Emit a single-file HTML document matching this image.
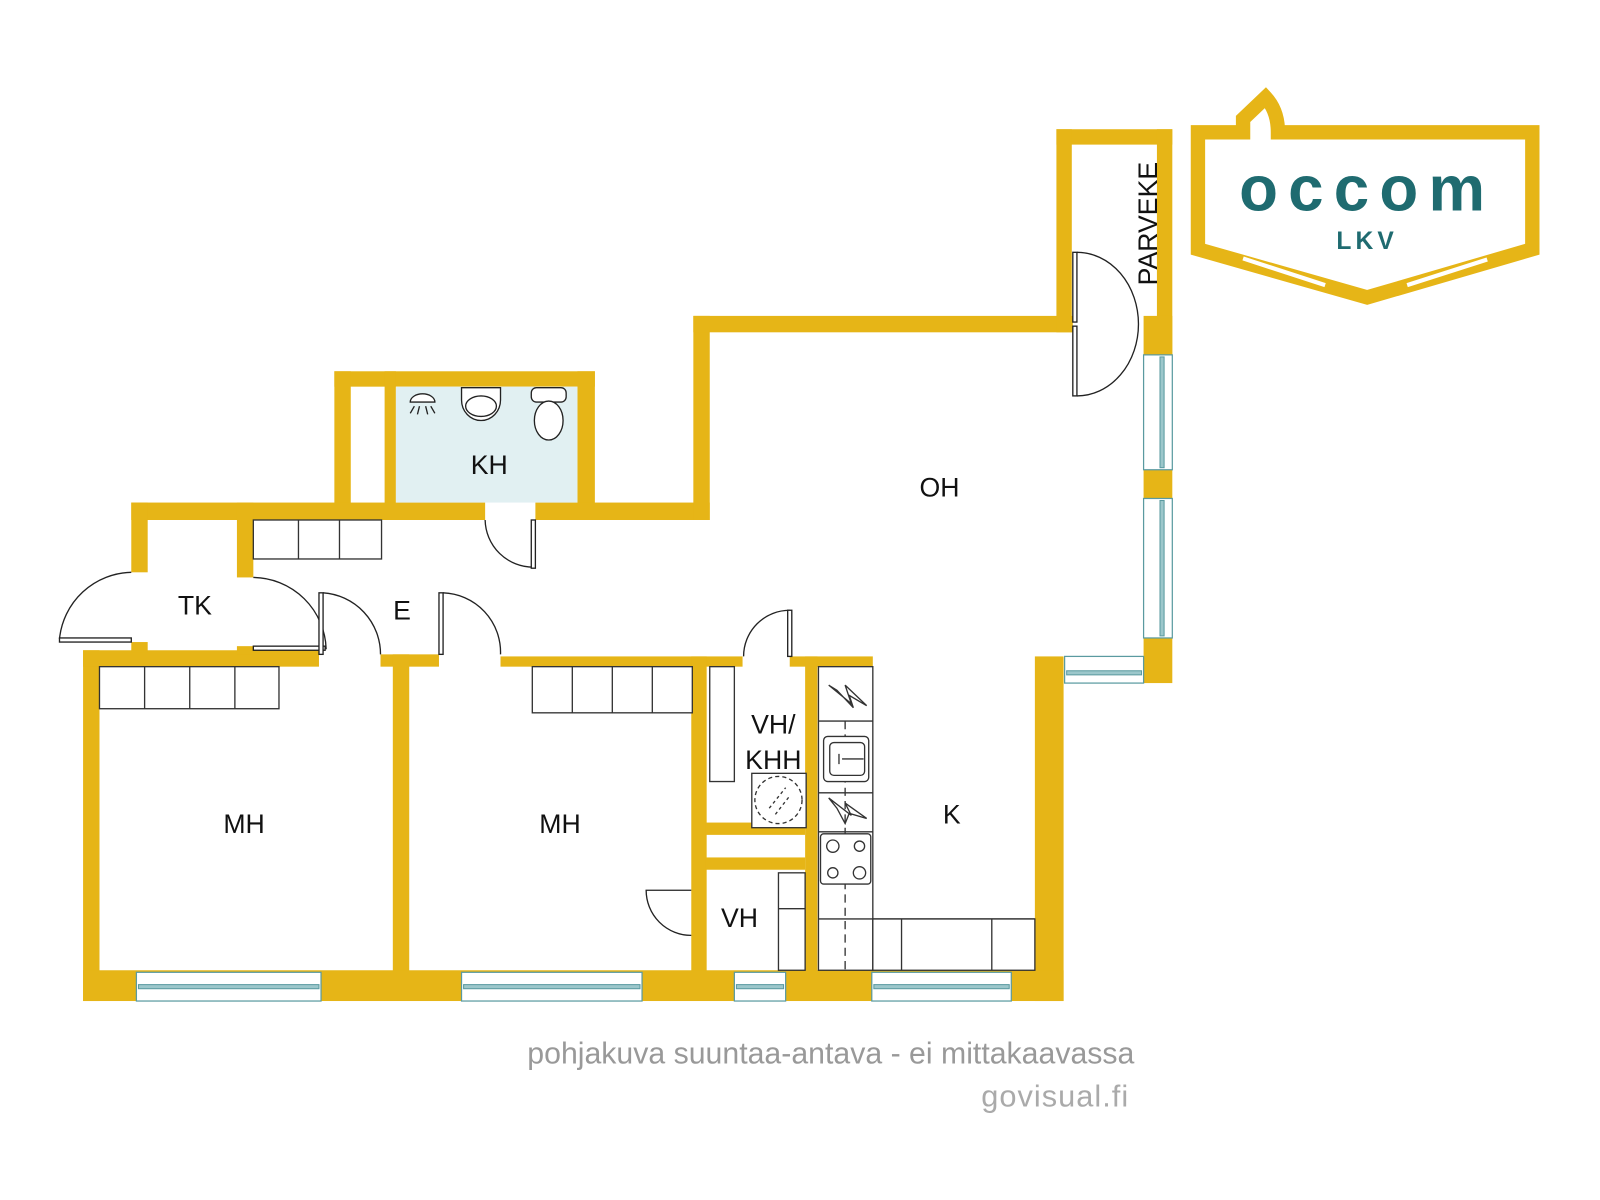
<!DOCTYPE html>
<html><head><meta charset="utf-8"><style>
html,body{margin:0;padding:0;background:#fff;}
svg{display:block;}
text{font-family:"Liberation Sans",sans-serif;}
</style></head><body>
<svg width="1600" height="1200" viewBox="0 0 1560 1170" xmlns="http://www.w3.org/2000/svg">
<rect width="1560" height="1170" fill="#fff"/>
<g transform="translate(-2,-2)">
<g fill="#E6B517">
<rect x="328" y="364" width="254" height="15"/>
<rect x="328" y="364" width="16" height="145"/>
<rect x="377" y="364" width="11" height="145"/>
<rect x="565" y="364" width="17" height="145"/>
<rect x="130" y="492" width="345" height="17"/>
<rect x="524" y="492" width="170" height="17"/>
<rect x="130" y="492" width="16" height="68"/>
<rect x="233" y="492" width="16" height="73"/>
<rect x="678" y="310" width="16" height="199"/>
<rect x="678" y="310" width="370" height="16"/>
<rect x="1032" y="128" width="113" height="15"/>
<rect x="1032" y="128" width="15" height="198"/>
<rect x="1130" y="128" width="15" height="220"/>
<rect x="1117" y="310" width="28" height="38"/>
<rect x="1117" y="460" width="28" height="28"/>
<rect x="1117" y="624" width="28" height="44"/>
<rect x="83" y="636" width="16" height="342"/>
<rect x="83" y="636" width="230" height="16"/>
<rect x="130" y="628" width="16" height="10"/>
<rect x="233" y="632" width="16" height="8"/>
<rect x="373" y="640" width="57" height="12"/>
<rect x="385" y="640" width="16" height="320"/>
<rect x="490" y="642" width="236" height="10"/>
<rect x="772" y="642" width="81" height="10"/>
<rect x="676" y="642" width="15" height="318"/>
<rect x="787" y="642" width="12" height="318"/>
<rect x="690" y="804" width="97" height="12"/>
<rect x="690" y="838" width="97" height="12"/>
<rect x="1011" y="642" width="28" height="336"/>
<rect x="83" y="948" width="956" height="30"/>
</g>
<rect x="388" y="379" width="177" height="113" fill="#E1F0F2"/>
<g fill="#fff" stroke="#5A9AA0" stroke-width="1.2">
<rect x="135" y="950" width="180" height="28"/>
<rect x="452" y="950" width="176" height="28"/>
<rect x="718" y="950" width="50" height="28"/>
<rect x="852" y="950" width="136" height="28"/>
<rect x="1117" y="348" width="28" height="112"/>
<rect x="1117" y="488" width="28" height="136"/>
<rect x="1040" y="642" width="77" height="26"/>
</g>
<g fill="#9CC7CB" stroke="#5A9AA0" stroke-width="1">
<rect x="137" y="962" width="176" height="4"/>
<rect x="454" y="962" width="172" height="4"/>
<rect x="720" y="962" width="46" height="4"/>
<rect x="854" y="962" width="132" height="4"/>
<rect x="1133" y="350" width="4" height="108"/>
<rect x="1133" y="490" width="4" height="132"/>
<rect x="1042" y="656" width="73" height="4"/>
</g>
<g fill="none" stroke="#222" stroke-width="1.3">
<path d="M130 560 A72 72 0 0 0 60 625"/>
<rect x="60" y="624" width="70" height="4" fill="#fff"/>
<path d="M249 565 A72 72 0 0 1 320 635"/>
<rect x="249" y="632" width="70" height="4" fill="#fff"/>
<path d="M317 580 A60 60 0 0 1 373 640"/>
<rect x="313" y="580" width="4" height="60" fill="#fff"/>
<path d="M434 580 A58 58 0 0 1 490 640"/>
<rect x="430" y="580" width="4" height="60" fill="#fff"/>
<path d="M475 509 A47 47 0 0 0 522 555"/>
<rect x="520" y="509" width="4" height="47" fill="#fff"/>
<path d="M772 597 A45 45 0 0 0 727 642"/>
<rect x="770" y="597" width="4" height="45" fill="#fff"/>
<path d="M676 870 L632 870 A44 44 0 0 0 676 914"/>
<path d="M1052 248 A60 70 0 0 1 1052 388"/>
<rect x="1048" y="248" width="4" height="68" fill="#fff"/>
<rect x="1048" y="320" width="4" height="68" fill="#fff"/>
</g>
<g fill="#fff" stroke="#333" stroke-width="1.3">
<rect x="249" y="509" width="125" height="38"/>
<line x1="293" y1="509" x2="293" y2="547"/><line x1="333" y1="509" x2="333" y2="547"/>
<rect x="99" y="652" width="175" height="41"/>
<line x1="143" y1="652" x2="143" y2="693"/><line x1="187" y1="652" x2="187" y2="693"/><line x1="231" y1="652" x2="231" y2="693"/>
<rect x="521" y="652" width="156" height="45"/>
<line x1="560" y1="652" x2="560" y2="697"/><line x1="599" y1="652" x2="599" y2="697"/><line x1="638" y1="652" x2="638" y2="697"/>
<rect x="694" y="652" width="24" height="112"/>
<rect x="735" y="756" width="53" height="53"/>
<rect x="761" y="853" width="26" height="95"/>
<line x1="761" y1="888" x2="787" y2="888"/>
<rect x="800" y="652" width="53" height="296"/>
<line x1="800" y1="705" x2="853" y2="705"/>
<line x1="800" y1="775" x2="853" y2="775"/>
<line x1="800" y1="813" x2="853" y2="813"/>
<line x1="800" y1="898" x2="1011" y2="898"/>
<rect x="853" y="898" width="158" height="50"/>
<line x1="881" y1="898" x2="881" y2="948"/><line x1="969" y1="898" x2="969" y2="948"/>
<line x1="826" y1="705" x2="826" y2="948" stroke-dasharray="8,5"/>
<rect x="805" y="720" width="44" height="44" rx="4"/>
<rect x="811" y="726" width="34" height="32" rx="4"/>
<rect x="802" y="815" width="49" height="49" rx="3"/>
<circle cx="814" cy="827" r="6"/><circle cx="840" cy="827" r="5"/>
<circle cx="814" cy="853" r="5"/><circle cx="840" cy="853" r="6"/>
<path d="M823 742 L844 742 M820 737 L820 747"/>
<path d="M810 670 L832 688 L826 670 L847 690 L830 680 L834 692 L818 675 Z" fill="none"/>
<path d="M810 780 L832 797 L826 785 L847 800 L830 795 L826 805 L818 790 Z" fill="none"/>
<circle cx="761" cy="782" r="23" stroke-dasharray="4,3"/>
<path d="M752 790 L768 770 M758 796 L772 778" stroke-dasharray="3,3"/>
</g>
<g fill="#fff" stroke="#222" stroke-width="1.3">
<path d="M402 394 A12 8 0 0 1 426 394 Z"/>
<path d="M406 398 L402 405 M411 398 L409 406 M417 398 L419 406 M422 398 L426 405"/>
<path d="M452 380 L490 380 L490 392 A19 20 0 0 1 452 392 Z"/>
<ellipse cx="471" cy="398" rx="15" ry="10"/>
<rect x="520" y="380" width="34" height="14" rx="5"/>
<ellipse cx="537" cy="412" rx="14" ry="19"/>
</g>
<g font-size="26" fill="#111" text-anchor="middle">
<text x="479" y="464">KH</text>
<text x="918" y="486">OH</text>
<text x="192" y="601">TK</text>
<text x="394" y="606">E</text>
<text x="240" y="814">MH</text>
<text x="548" y="814">MH</text>
<text x="756" y="717">VH/</text>
<text x="756" y="752">KHH</text>
<text x="930" y="805">K</text>
<text x="723" y="906">VH</text>
<text transform="translate(1130,220) rotate(-90)">PARVEKE</text>
</g>
</g>
<g fill="none" stroke="#E6B517" stroke-width="14" stroke-linejoin="miter">
<path d="M1168 129 L1212 129 L1212 116 L1234 95 Q1246 108 1246 129 L1494 129 L1494 243 L1333 290 L1168 243 Z"/>
</g>
<g stroke="#fff" stroke-width="4">
<line x1="1212" y1="252" x2="1292" y2="278"/>
<line x1="1372" y1="278" x2="1450" y2="253"/>
</g>
<text x="1333" y="205" font-size="62" font-weight="bold" fill="#1F6B70" text-anchor="middle" letter-spacing="10">occom</text>
<text x="1333" y="243" font-size="24" font-weight="bold" fill="#1F6B70" text-anchor="middle" letter-spacing="4">LKV</text>
<text x="1106" y="1037" font-size="29.5" fill="#999" text-anchor="end">pohjakuva suuntaa-antava - ei mittakaavassa</text>
<text x="1101" y="1079" font-size="30" fill="#aaa" text-anchor="end" letter-spacing="1">govisual.fi</text>
</svg>
</body></html>
